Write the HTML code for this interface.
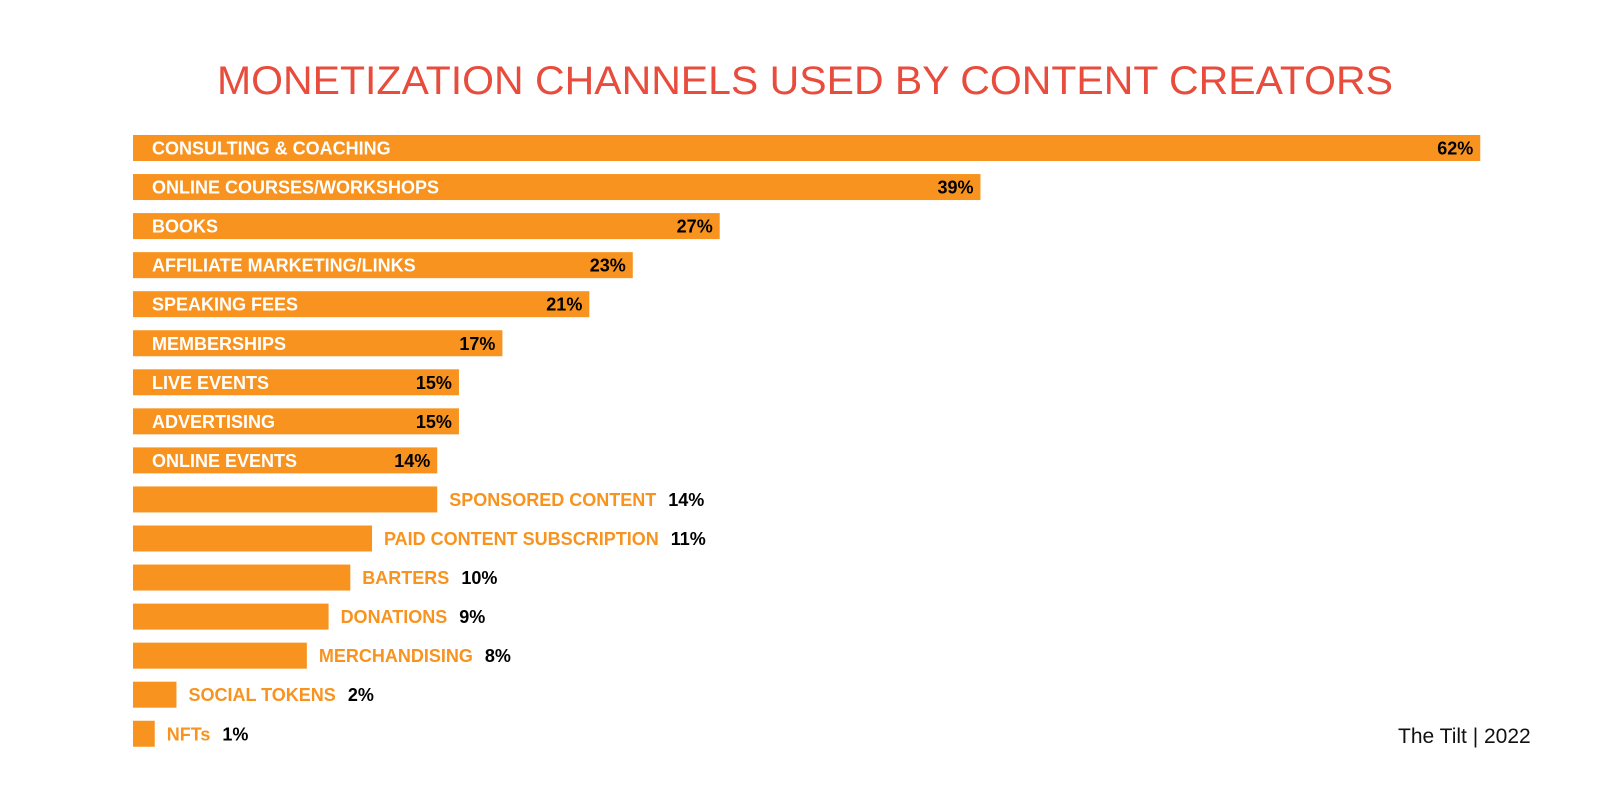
<!DOCTYPE html>
<html><head><meta charset="utf-8"><style>
html,body{margin:0;padding:0;background:#fff;}
svg{display:block;font-family:"Liberation Sans",sans-serif;}
</style></head><body>
<svg id="chart" width="1600" height="800" viewBox="0 0 1600 800">
<text x="217" y="94" fill="#e84c3d" font-size="40" textLength="1176" lengthAdjust="spacingAndGlyphs">MONETIZATION CHANNELS USED BY CONTENT CREATORS</text>
<g id="bars"></g>
<text x="1398" y="743" font-size="21" fill="#111">The Tilt  |  2022</text>
</svg>
<script>
const categories = ["CONSULTING & COACHING","ONLINE COURSES/WORKSHOPS","BOOKS","AFFILIATE MARKETING/LINKS","SPEAKING FEES","MEMBERSHIPS","LIVE EVENTS","ADVERTISING","ONLINE EVENTS","SPONSORED CONTENT","PAID CONTENT SUBSCRIPTION","BARTERS","DONATIONS","MERCHANDISING","SOCIAL TOKENS","NFTs"];
const values = [62,39,27,23,21,17,15,15,14,14,11,10,9,8,2,1];
const insideCount = 9;
const NS = "http://www.w3.org/2000/svg";
const x0 = 133, pxPer = 21.73, y0 = 135, step = 39.05, bh = 26;
const xs = v => x0 + v * pxPer;
const ys = i => y0 + i * step;
const g = document.getElementById('bars');
function mk(tag, attrs){const e=document.createElementNS(NS,tag);for(const k in attrs)e.setAttribute(k,attrs[k]);return e;}
categories.forEach((c,i)=>{
  const v = values[i];
  const y = ys(i), xe = xs(v);
  const r = mk('rect',{x:x0,y:y,width:xe-x0,height:bh,fill:'#f7931e'});
  
  
  g.appendChild(r);
  const by = y + bh/2 + 6.5;
  if(i < insideCount){
    const t = mk('text',{x:152,y:by,fill:'#fff','font-size':18,'font-weight':'bold'});
    t.textContent = c;
    
    
    g.appendChild(t);
    const vt = mk('text',{x:xe-7,y:by,fill:'#000','font-size':18,'font-weight':'bold','text-anchor':'end'});
    vt.textContent = v+'%';
    
    
    g.appendChild(vt);
  } else {
    const t = mk('text',{x:xe+12,y:by,fill:'#f7931e','font-size':18,'font-weight':'bold'});
    t.textContent = c;
    
    
    g.appendChild(t);
    const w = t.getComputedTextLength();
    const vt = mk('text',{x:xe+12+w+12,y:by,fill:'#000','font-size':18,'font-weight':'bold'});
    vt.textContent = v+'%';
    
    
    g.appendChild(vt);
  }
});
</script>
</body></html>
